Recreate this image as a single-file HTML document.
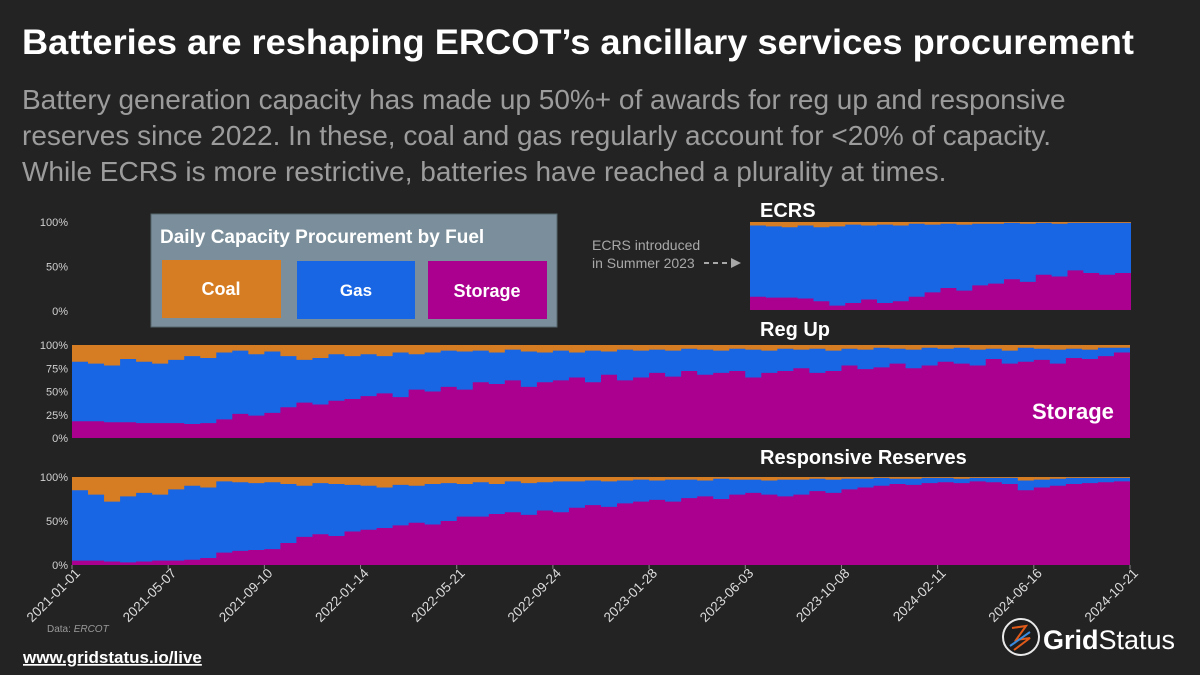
<!DOCTYPE html>
<html><head><meta charset="utf-8"><style>
html,body{margin:0;padding:0;background:#232323;}
svg{display:block;font-family:"Liberation Sans",sans-serif;}
</style></head><body>
<svg id="c" width="1200" height="675" viewBox="0 0 1200 675">
<rect x="0" y="0" width="1200" height="675" fill="#232323"/>
<text x="22" y="54" font-size="35.5" font-weight="bold" fill="#ffffff" textLength="1112" lengthAdjust="spacingAndGlyphs">Batteries are reshaping ERCOT’s ancillary services procurement</text>
<g font-size="28" fill="#9c9c9c">
<text x="22" y="109">Battery generation capacity has made up 50%+ of awards for reg up and responsive</text>
<text x="22" y="145">reserves since 2022. In these, coal and gas regularly account for &lt;20% of capacity.</text>
<text x="22" y="181">While ECRS is more restrictive, batteries have reached a plurality at times.</text>
</g>
<g id="plots"></g>
<g id="axes" font-size="11" fill="#d0d0d0"></g>
<g>
<rect x="151" y="214" width="406" height="113" fill="#7a8f9b" stroke="#56646c" stroke-width="1"/>
<text x="160" y="243" font-size="19" font-weight="bold" fill="#fff">Daily Capacity Procurement by Fuel</text>
<rect x="162" y="260" width="119" height="58" fill="#d67c22"/>
<text x="221" y="295" font-size="18" font-weight="bold" fill="#fff" text-anchor="middle">Coal</text>
<rect x="297" y="261" width="118" height="58" fill="#1866e3"/>
<text x="356" y="296" font-size="17" font-weight="bold" fill="#fff" text-anchor="middle">Gas</text>
<rect x="428" y="261" width="119" height="58" fill="#ab008f"/>
<text x="487" y="297" font-size="18" font-weight="bold" fill="#fff" text-anchor="middle">Storage</text>
</g>
<text x="760" y="217" font-size="20" font-weight="bold" fill="#fff">ECRS</text>
<text x="760" y="336" font-size="20" font-weight="bold" fill="#fff">Reg Up</text>
<text x="760" y="464" font-size="20" font-weight="bold" fill="#fff">Responsive Reserves</text>
<text x="1032" y="419" font-size="22" font-weight="bold" fill="#fff">Storage</text>
<g fill="#a8a8a8" font-size="14">
<text x="592" y="250">ECRS introduced</text>
<text x="592" y="268">in Summer 2023</text>
<line x1="704" y1="263" x2="730" y2="263" stroke="#a8a8a8" stroke-width="2" stroke-dasharray="5,4"/>
<polygon points="731,258 741,263 731,268" fill="#a8a8a8"/>
</g>
<text x="47" y="632" font-size="10" fill="#9a9a9a">Data: <tspan font-style="italic">ERCOT</tspan></text>
<text x="23" y="663" font-size="17" font-weight="bold" fill="#fff" text-decoration="underline">www.gridstatus.io/live</text>
<g>
<circle cx="1021" cy="637" r="18" fill="#1d1d1d" stroke="#e8e8e8" stroke-width="2"/>
<path d="M1012 628 L1026 626 L1016 640 L1030 638 L1014 650" fill="none" stroke="#e05a1a" stroke-width="2"/>
<path d="M1010 646 L1030 632" stroke="#3a8be0" stroke-width="2"/>
<text x="1043" y="649" font-size="27" fill="#fff"><tspan font-weight="bold">Grid</tspan>Status</text>
</g>
</svg>
<script>
const NS="http://www.w3.org/2000/svg";
// Reg Up: storage share % and top of gas share % (coal = remainder), 21-day bins from 2021-01-01
const regupStorage=[18,18,17,17,16,16,16,15,16,20,26,24,27,33,38,36,40,42,45,48,44,52,50,55,52,60,58,62,55,60,62,65,60,68,62,65,70,66,72,68,70,72,65,70,72,75,70,72,78,74,76,80,75,78,82,80,78,85,80,82,84,80,86,85,88,92];
const regupGasTop=[82,80,78,85,82,80,84,88,86,92,94,90,93,88,84,86,90,88,90,88,92,90,92,94,93,94,92,95,93,92,94,92,94,93,95,94,95,94,96,95,94,96,95,94,96,95,96,94,96,95,97,96,95,97,96,97,95,96,94,97,96,95,96,95,97,97];
const rrsStorage=[5,5,4,3,4,5,5,6,8,14,16,17,18,25,32,35,33,38,40,42,45,48,46,50,55,55,58,60,57,62,60,65,68,66,70,72,74,72,76,78,75,80,82,80,78,80,84,82,86,88,90,92,91,93,94,93,95,94,92,85,88,90,92,93,94,95];
const rrsGasTop=[85,80,72,78,82,80,86,90,88,95,94,93,94,92,90,93,92,91,90,88,91,90,92,93,92,94,92,95,93,94,95,95,96,95,96,97,96,97,97,96,98,97,97,96,97,97,98,97,98,98,99,98,98,99,99,98,99,99,99,96,97,98,99,99,99,99];
// ECRS: bins from ~2023-06 to 2024-10
const ecrsStorage=[15,14,14,13,10,5,8,12,8,10,15,20,25,22,28,30,35,32,40,38,45,42,40,42];
const ecrsGasTop=[96,95,94,96,94,95,97,96,97,96,98,97,98,97,98,98,99,98,99,98,99,99,99,99];
const xTicks=["2021-01-01","2021-05-07","2021-09-10","2022-01-14","2022-05-21","2022-09-24","2023-01-28","2023-06-03","2023-10-08","2024-02-11","2024-06-16","2024-10-21"];
const regupTicks=[0,25,50,75,100];
const halfTicks=[0,50,100];

const C={coal:"#d67c22",gas:"#1866e3",storage:"#ab008f"};
const plots=document.getElementById('plots'), axes=document.getElementById('axes');
function mk(tag,attrs,parent){const e=document.createElementNS(NS,tag);for(const k in attrs)e.setAttribute(k,attrs[k]);parent.appendChild(e);return e;}

function panel(name,x0,x1,y0,y1,storage,gasTop){
  const g=mk('g',{},plots);
  
  
  const n=storage.length, w=(x1-x0)/n;
  const ys=v=>y1-(y1-y0)*v/100;
  const bg=mk('rect',{x:x0,y:y0,width:x1-x0,height:y1-y0,fill:C.coal},g);
  
  
  let gp=`M${x0},${y1}`, sp=`M${x0},${y1}`;
  for(let i=0;i<n;i++){
    const xa=x0+i*w, xb=x0+(i+1)*w;
    gp+=` L${xa},${ys(gasTop[i])} L${xb},${ys(gasTop[i])}`;
    sp+=` L${xa},${ys(storage[i])} L${xb},${ys(storage[i])}`;
  }
  gp+=` L${x1},${y1} Z`; sp+=` L${x1},${y1} Z`;
  const ga=mk('path',{d:gp,fill:C.gas},g);
  
  
  const sa=mk('path',{d:sp,fill:C.storage},g);
  
  
}
panel('ecrs',750,1131,222,310,ecrsStorage,ecrsGasTop);
panel('reg-up',72,1130,345,438,regupStorage,regupGasTop);
panel('responsive-reserves',72,1130,477,565,rrsStorage,rrsGasTop);

function yAxis(name,ticks,y0,y1){
  ticks.forEach(t=>{
    const y=y1-(y1-y0)*t/100;
    const tx=mk('text',{x:68,y:y+4,'text-anchor':'end'},axes);
    tx.textContent=t+'%';
    
    
  });
}
yAxis('ecrs',halfTicks,222,311);
yAxis('reg-up',regupTicks,345,438);
yAxis('rrs',halfTicks,477,565);

const xg=mk('g',{'font-size':'13.5',fill:'#dcdcdc'},axes);
xTicks.forEach((t,i)=>{
  const x=72+(1130-72)*i/(xTicks.length-1);
  const l=mk('line',{x1:x,y1:565,x2:x,y2:569,stroke:'#888'},xg);
  
  
  const tx=mk('text',{x:x+9,y:574,'text-anchor':'end',transform:`rotate(-45 ${x+9} 574)`},xg);
  tx.textContent=t;
  
  
});
</script>
</body></html>
